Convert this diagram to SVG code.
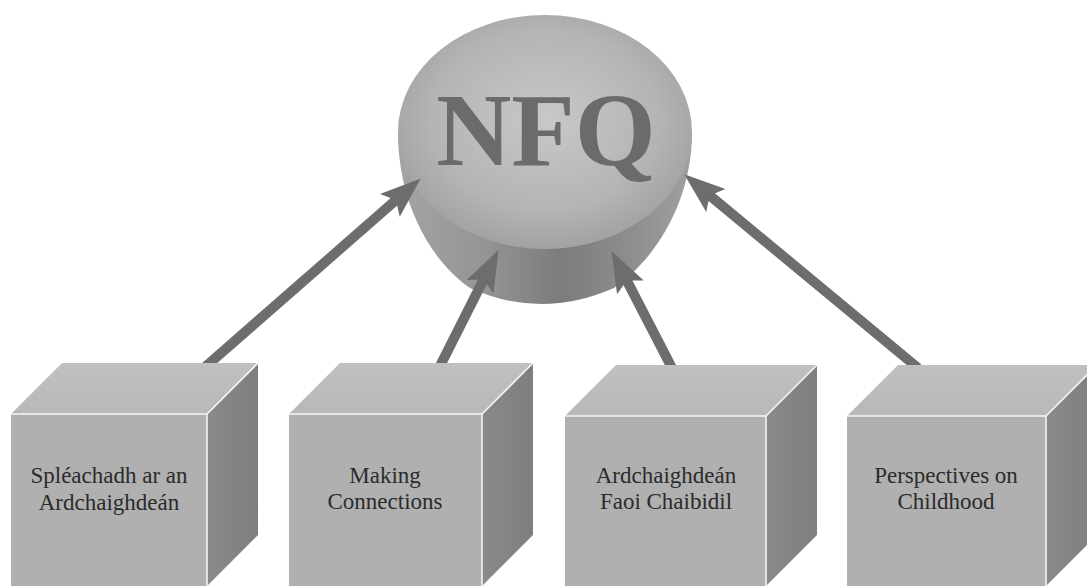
<svg xmlns="http://www.w3.org/2000/svg" width="1087" height="586" viewBox="0 0 1087 586">
<style>
.front{fill:#b0b0b0}
.top{fill:url(#gTop)}
.side{fill:url(#gSide)}
.edge{fill:none;stroke:#f4f4f4;stroke-width:1.6}
.conn{stroke:#6c6d6f;stroke-width:10;fill:none;marker-end:url(#ah)}
</style>
<defs>
<radialGradient id="gFace" cx="50%" cy="45%" r="55%">
<stop offset="0" stop-color="#c8c8c8"/>
<stop offset="0.7" stop-color="#b4b4b4"/>
<stop offset="1" stop-color="#a2a2a2"/>
</radialGradient>
<linearGradient id="gBody" x1="0" y1="0" x2="1" y2="0">
<stop offset="0" stop-color="#a4a4a4"/>
<stop offset="0.3" stop-color="#949494"/>
<stop offset="0.55" stop-color="#7c7c7c"/>
<stop offset="0.8" stop-color="#8e8e8e"/>
<stop offset="1" stop-color="#a0a0a0"/>
</linearGradient>
<linearGradient id="gTop" x1="0" y1="0" x2="0" y2="1">
<stop offset="0" stop-color="#c0c0c0"/>
<stop offset="1" stop-color="#b8b8b8"/>
</linearGradient>
<linearGradient id="gSide" x1="0" y1="0" x2="1" y2="0">
<stop offset="0" stop-color="#8a8a8a"/>
<stop offset="1" stop-color="#7e7e7e"/>
</linearGradient>
<marker id="ah" markerUnits="userSpaceOnUse" viewBox="-12 -17 46 34" markerWidth="46" markerHeight="34" refX="0" refY="0" orient="auto">
<path d="M31,0 L-10,-15 L-2,0 L-10,15 Z" fill="#6c6d6f"/>
</marker>
</defs>
<rect width="1087" height="586" fill="#ffffff"/>

<g id="nfq">
<path d="M398,132 C398,205 432,262 470,288 Q541,320 614,288 C652,262 692,205 692,132 Z" fill="url(#gBody)"/>
<ellipse cx="545" cy="132" rx="147" ry="117" fill="url(#gFace)"/>
<text x="546" y="165" font-family="Liberation Serif, DejaVu Serif, serif" font-weight="bold" font-size="104" fill="#6b6b6b" text-anchor="middle">NFQ</text>
</g>

<g id="connectors">
<line class="conn" x1="204" y1="368" x2="397.4" y2="198.8"/>
<line class="conn" x1="439" y1="368" x2="484.5" y2="277.8"/>
<line class="conn" x1="672" y1="368" x2="625.8" y2="278.6"/>
<line class="conn" x1="918" y1="368" x2="708.1" y2="194.1"/>
</g>

<g id="box1">
<polygon class="top" points="11,414 62,363 258,363 207,414"/>
<polygon class="side" points="207,414 258,363 258,535 207,586"/>
<rect class="front" x="11" y="414" width="196" height="172"/>
<polyline class="edge" points="11,414 207,414 258,363"/>
<line class="edge" x1="207" y1="414" x2="207" y2="586"/>
<text x="109" y="483" font-family="Liberation Serif, serif" font-size="23" fill="#2b2b2b" text-anchor="middle">Spléachadh ar an</text>
<text x="109" y="510" font-family="Liberation Serif, serif" font-size="23" fill="#2b2b2b" text-anchor="middle">Ardchaighdeán</text>
</g>

<g id="box2">
<polygon class="top" points="289,414 340,363 533,363 482,414"/>
<polygon class="side" points="482,414 533,363 533,535 482,586"/>
<rect class="front" x="289" y="414" width="193" height="172"/>
<polyline class="edge" points="289,414 482,414 533,363"/>
<line class="edge" x1="482" y1="414" x2="482" y2="586"/>
<text x="385" y="483" font-family="Liberation Serif, serif" font-size="23" fill="#2b2b2b" text-anchor="middle">Making</text>
<text x="385" y="509" font-family="Liberation Serif, serif" font-size="23" fill="#2b2b2b" text-anchor="middle">Connections</text>
</g>

<g id="box3">
<polygon class="top" points="565,416 616,365 817,365 766,416"/>
<polygon class="side" points="766,416 817,365 817,535 766,586"/>
<rect class="front" x="565" y="416" width="201" height="170"/>
<polyline class="edge" points="565,416 766,416 817,365"/>
<line class="edge" x1="766" y1="416" x2="766" y2="586"/>
<text x="666" y="483" font-family="Liberation Serif, serif" font-size="23" fill="#2b2b2b" text-anchor="middle">Ardchaighdeán</text>
<text x="666" y="509" font-family="Liberation Serif, serif" font-size="23" fill="#2b2b2b" text-anchor="middle">Faoi Chaibidil</text>
</g>

<g id="box4">
<polygon class="top" points="847,416 898,365 1097,365 1046,416"/>
<polygon class="side" points="1046,416 1097,365 1097,535 1046,586"/>
<rect class="front" x="847" y="416" width="199" height="170"/>
<polyline class="edge" points="847,416 1046,416 1097,365"/>
<line class="edge" x1="1046" y1="416" x2="1046" y2="586"/>
<text x="946" y="483" font-family="Liberation Serif, serif" font-size="23" fill="#2b2b2b" text-anchor="middle">Perspectives on</text>
<text x="946" y="509" font-family="Liberation Serif, serif" font-size="23" fill="#2b2b2b" text-anchor="middle">Childhood</text>
</g>
</svg>
